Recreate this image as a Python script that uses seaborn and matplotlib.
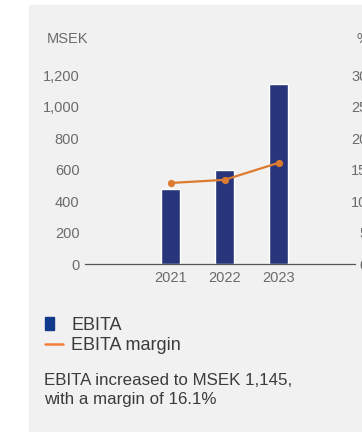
import matplotlib
matplotlib.use("Agg")
import matplotlib.pyplot as plt
from matplotlib.patches import Rectangle
from matplotlib.lines import Line2D
from matplotlib.legend_handler import HandlerPatch
import seaborn as sns
import pandas as pd

years = ["2021", "2022", "2023"]
ebita = [478, 599, 1145]
margin = [12.9, 13.4, 16.1]
left_ticks = [0, 200, 400, 600, 800, 1000, 1200]
right_ticks = [0, 5, 10, 15, 20, 25, 30]

sns.set_theme(style="white")
plt.rcParams["font.family"] = ["Liberation Sans", "DejaVu Sans"]

BAR = "#29357b"
LINE = "#dc7b2f"
TICK = "#6b6b6b"
TXT = "#3b3b3b"

W, H = 362, 432
fig = plt.figure(figsize=(W / 100, H / 100), dpi=100)
fig.patch.set_facecolor("white")
fig.add_artist(Rectangle((29 / W, 0), 1 - 29 / W, (H - 5) / H,
                         transform=fig.transFigure, color="#f1f1f1", zorder=0))

df = pd.DataFrame({"year": years, "ebita": ebita, "margin": margin})

ax = fig.add_axes([85 / W, (H - 264) / H, 270 / W, 188.4 / H])
ax.set_facecolor("none")
sns.barplot(data=df, x="year", y="ebita", color=BAR, saturation=1,
            width=0.35, ax=ax)
ax.set_ylim(0, 1200)
ax.set_yticks(left_ticks)
ax.set_yticklabels([f"{v:,}" for v in left_ticks])
ax.set_xlabel("")
ax.set_ylabel("")
for s in ["top", "right", "left"]:
    ax.spines[s].set_visible(False)
ax.spines["bottom"].set_color("#555555")
ax.spines["bottom"].set_linewidth(0.9)
ax.tick_params(axis="y", length=0, pad=4, labelsize=10.5, labelcolor=TICK)
ax.tick_params(axis="x", length=0, pad=5, labelsize=10.5, labelcolor=TICK)

ax2 = ax.twinx()
sns.pointplot(data=df, x="year", y="margin", color=LINE, markers="o",
              markersize=4, linewidth=1.6, ax=ax2)
ax2.set_ylim(0, 30)
ax2.set_yticks(right_ticks)
ax2.set_yticklabels([str(v) for v in right_ticks], ha="right")
ax2.set_ylabel("")
ax2.set_xlabel("")
for s in ["top", "right", "left", "bottom"]:
    ax2.spines[s].set_visible(False)
ax2.tick_params(axis="y", length=0, pad=9, labelsize=10.5, labelcolor=TICK)

xl = (-(170.5 - 85) / 54, (355 - 170.5) / 54)
ax.set_xlim(*xl)
ax2.set_xlim(*xl)

fig.text(46.5 / W, 1 - 39 / H, "MSEK", fontsize=10.5, color=TICK, va="center", ha="left")
fig.text(356.5 / W, 1 - 39 / H, "%", fontsize=10.5, color=TICK, va="center", ha="left")


def square(legend, orig_handle, xdescent, ydescent, width, height, fontsize):
    return Rectangle((-xdescent, -ydescent - 0.1 * height), 0.5 * width, 1.15 * height)


handles = [Rectangle((0, 0), 1, 1, color="#123a8c"),
           Line2D([], [], color="#f0803c", linewidth=1.8)]
fig.legend(handles, ["EBITA", "EBITA margin"], loc="upper left",
           handler_map={Rectangle: HandlerPatch(patch_func=square)},
           bbox_to_anchor=(45 / W, 1 - 316.5 / H), frameon=False, fontsize=13,
           labelcolor=TXT, handlelength=1.0, handleheight=0.6,
           handletextpad=0.45, labelspacing=0.2,
           borderpad=0, borderaxespad=0)

fig.text(44.5 / W, 1 - 390 / H, "EBITA increased to MSEK 1,145,\nwith a margin of 16.1%",
         fontsize=12.2, color=TXT, va="center", ha="left", linespacing=1.3)

fig.savefig("out.png", dpi=100, facecolor=fig.get_facecolor())
